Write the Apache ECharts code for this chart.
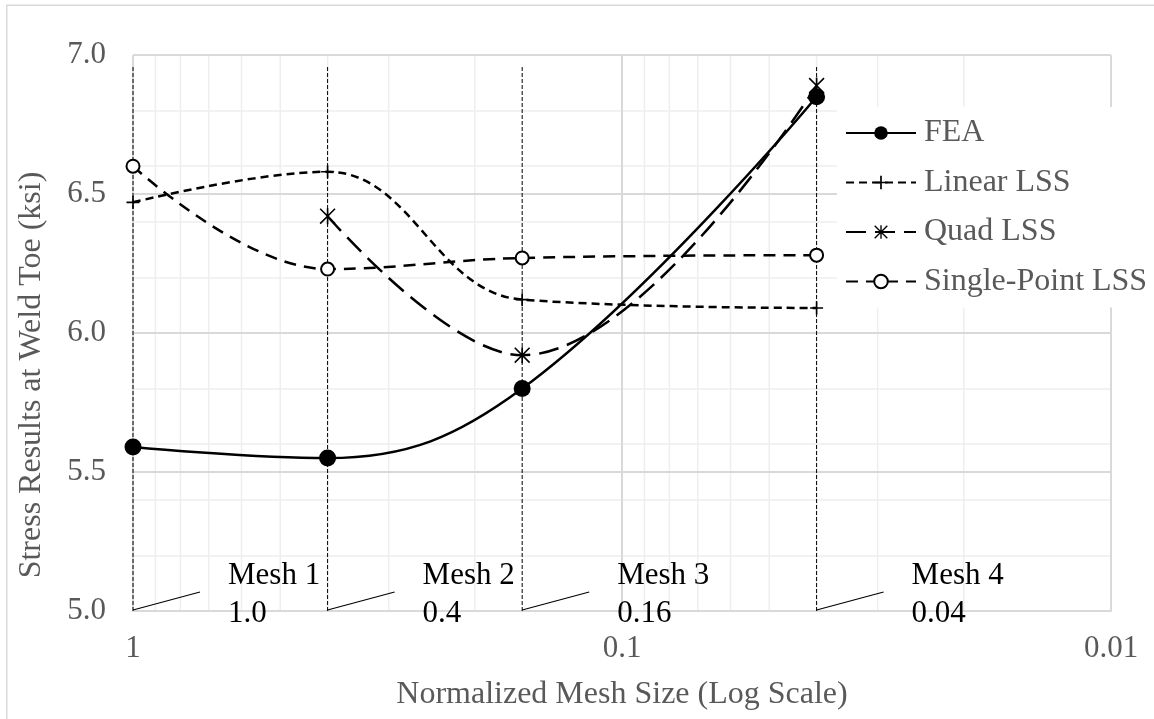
<!DOCTYPE html>
<html>
<head>
<meta charset="utf-8">
<script src="https://cdn.jsdelivr.net/npm/echarts@6/dist/echarts.min.js"></script>
<style>
  html, body { margin: 0; padding: 0; background: #ffffff; }
  #chart { width: 1154px; height: 719px; }
</style>
</head>
<body>
<div id="chart"></div>
<script>
// Normalized mesh sizes of the four meshes (x values, log scale)
const meshSizes = [1.0, 0.4, 0.16, 0.04];
const meshNames = ['Mesh 1', 'Mesh 2', 'Mesh 3', 'Mesh 4'];
const meshSizeLabels = ['1.0', '0.4', '0.16', '0.04'];

// Stress at the weld toe (ksi) for each method, one value per mesh
const feaValues = [5.59, 5.55, 5.80, 6.85];
const linearLssValues = [6.47, 6.58, 6.12, 6.09];
const quadLssValues = [null, 6.42, 5.92, 6.89];
const singlePointLssValues = [6.60, 6.23, 6.27, 6.28];

// Axis ranges and gridlines
const xMin = 0.01, xMax = 1;
const yMin = 5.0, yMax = 7.0;
const yMajorStep = 0.5, yMinorStep = 0.2;
const xMinorValues = [0.9, 0.8, 0.7, 0.6, 0.5, 0.4, 0.3, 0.2,
                      0.09, 0.08, 0.07, 0.06, 0.05, 0.04, 0.03, 0.02];
const meshLineTop = 6.96;

const xTitle = 'Normalized Mesh Size (Log Scale)';
const yTitle = 'Stress Results at Weld Toe (ksi)';

const FONT = "'Liberation Serif', 'Times New Roman', serif";
const GREY_TEXT = '#595959';

function pairs(values) {
  const out = [];
  values.forEach((v, i) => { if (v !== null) out.push([meshSizes[i], v]); });
  return out;
}

const plusPath = 'path://M0,10.5H24V13.5H0Z M10.5,0H13.5V24H10.5Z';
const starPath = 'path://M10.8,0H13.2V24H10.8Z M0,1.7L1.7,0L24,22.3L22.3,24Z M22.3,0L24,1.7L1.7,24L0,22.3Z';

const chart = echarts.init(document.getElementById('chart'), null, { renderer: 'canvas' });

const option = {
  backgroundColor: '#ffffff',
  animation: false,
  textStyle: { fontFamily: FONT },
  graphic: [{
    type: 'rect',
    shape: { x: 6.75, y: 5.25, width: 1300, height: 900 },
    style: { fill: 'none', stroke: '#d9d9d9', lineWidth: 1.5 },
    silent: true
  }, {
    // vertical axis title
    type: 'text',
    x: 32,
    y: 375,
    rotation: Math.PI / 2,
    silent: true,
    style: {
      text: yTitle,
      font: '32px ' + FONT,
      fill: GREY_TEXT,
      align: 'center',
      verticalAlign: 'middle'
    }
  }],
  grid: { left: 133, right: 43, top: 55, bottom: 108, containLabel: false },
  legend: {
    orient: 'vertical',
    left: 837,
    top: 107,
    padding: [10, 6, 10, 8],
    backgroundColor: '#ffffff',
    itemWidth: 70,
    itemHeight: 17,
    itemGap: 17.5,
    textStyle: { fontFamily: FONT, fontSize: 32, color: GREY_TEXT, padding: [0, 0, 0, 3] },
    data: ['FEA', 'Linear LSS', 'Quad LSS', 'Single-Point LSS']
  },
  xAxis: {
    type: 'log',
    logBase: 10,
    min: xMin,
    max: xMax,
    inverse: true,
    splitNumber: 2,
    z: 1,
    name: xTitle,
    nameLocation: 'middle',
    nameGap: 68,
    nameTextStyle: { fontFamily: FONT, fontSize: 32, color: GREY_TEXT },
    axisLine: { show: true, lineStyle: { color: '#d9d9d9', width: 2 } },
    axisTick: { show: false },
    axisLabel: {
      fontFamily: FONT, fontSize: 31, color: GREY_TEXT, margin: 22,
      formatter: v => String(+v.toPrecision(6))
    },
    splitLine: { show: true, lineStyle: { color: '#d9d9d9', width: 2 } },
    minorTick: { show: false },
    minorSplitLine: { show: false }
  },
  yAxis: [{
    type: 'value',
    min: yMin,
    max: yMax,
    interval: yMajorStep,
    z: 1,
    axisLine: { show: false },
    axisTick: { show: false },
    axisLabel: {
      fontFamily: FONT, fontSize: 31, color: GREY_TEXT, margin: 27,
      formatter: v => v.toFixed(1)
    },
    splitLine: { show: true, lineStyle: { color: '#d9d9d9', width: 2 } }
  }, {
    type: 'value',
    position: 'left',
    min: yMin,
    max: yMax,
    interval: yMinorStep,
    z: 0,
    axisLine: { show: false },
    axisTick: { show: false },
    axisLabel: { show: false },
    splitLine: { show: true, lineStyle: { color: '#eeeeee', width: 1.5 } }
  }],
  series: [
    {
      // light vertical gridlines at 2..9 of each decade
      type: 'custom',
      name: 'minor-x-grid',
      silent: true,
      z: 0,
      clip: false,
      data: xMinorValues.map(v => [v, yMin]),
      renderItem: (params, api) => {
        const x = api.value(0);
        const p0 = api.coord([x, yMin]);
        const p1 = api.coord([x, yMax]);
        return {
          type: 'line',
          shape: { x1: p0[0], y1: p0[1], x2: p1[0], y2: p1[1] },
          style: { stroke: '#eeeeee', lineWidth: 1.5 }
        };
      }
    },
    {
      // dashed mesh markers with leader lines and labels
      type: 'custom',
      name: 'mesh-markers',
      silent: true,
      z: 3,
      clip: false,
      data: meshSizes.map(v => [v, yMin]),
      renderItem: (params, api) => {
        const i = params.dataIndex;
        const x = api.value(0);
        const base = api.coord([x, yMin]);
        const top = api.coord([x, meshLineTop]);
        return {
          type: 'group',
          children: [
            {
              type: 'line',
              shape: { x1: base[0], y1: base[1], x2: top[0], y2: top[1] },
              style: { stroke: '#000000', lineWidth: 1, lineDash: [4, 2] }
            },
            {
              type: 'line',
              shape: { x1: base[0], y1: base[1] - 1, x2: base[0] + 67, y2: base[1] - 19 },
              style: { stroke: '#000000', lineWidth: 1.2 }
            },
            {
              type: 'text',
              x: base[0] + 95,
              y: base[1] - 16,
              style: {
                text: meshNames[i] + '\n' + meshSizeLabels[i],
                fill: '#000000',
                font: '31px ' + FONT,
                lineHeight: 38,
                align: 'left',
                verticalAlign: 'middle'
              }
            }
          ]
        };
      }
    },
    {
      name: 'FEA',
      type: 'line',
      z: 4,
      smooth: 0.4,
      data: pairs(feaValues),
      symbol: 'circle',
      symbolSize: 17,
      itemStyle: { color: '#000000' },
      lineStyle: { color: '#000000', width: 2.5, type: 'solid' }
    },
    {
      name: 'Linear LSS',
      type: 'line',
      z: 5,
      smooth: 0.4,
      data: pairs(linearLssValues),
      symbol: plusPath,
      symbolSize: 13,
      itemStyle: { color: '#000000', borderWidth: 0 },
      lineStyle: { color: '#000000', width: 2.5, type: [8, 5] }
    },
    {
      name: 'Quad LSS',
      type: 'line',
      z: 6,
      smooth: 0.4,
      data: pairs(quadLssValues),
      symbol: starPath,
      symbolSize: 16,
      itemStyle: { color: '#000000', borderWidth: 0 },
      lineStyle: { color: '#000000', width: 2.5, type: [20, 9] }
    },
    {
      name: 'Single-Point LSS',
      type: 'line',
      z: 7,
      smooth: 0.4,
      data: pairs(singlePointLssValues),
      symbol: 'emptyCircle',
      symbolSize: 13,
      itemStyle: { color: '#000000', borderColor: '#000000', borderWidth: 2 },
      lineStyle: { color: '#000000', width: 2.5, type: [12, 8] }
    }
  ]
};

chart.setOption(option);
</script>
</body>
</html>
